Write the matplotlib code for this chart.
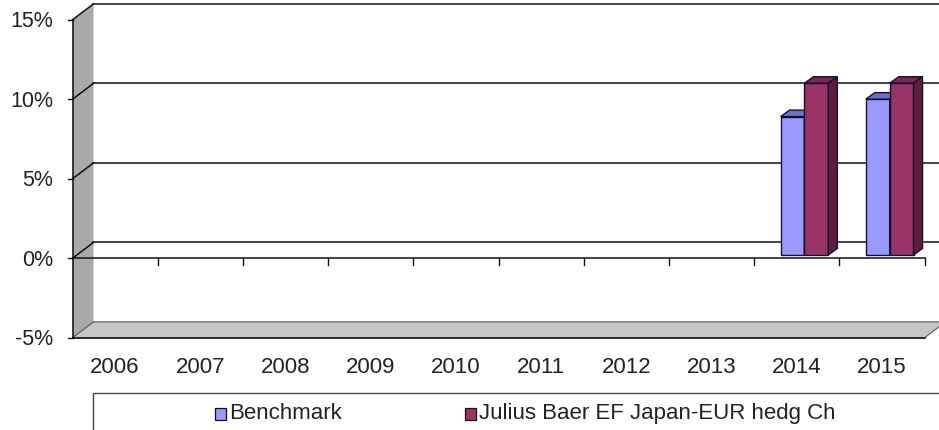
import numpy as np
import matplotlib.pyplot as plt
from matplotlib.patches import Polygon, Rectangle

plt.rcParams['font.family'] = ['Liberation Sans', 'DejaVu Sans']

# data
years = ['2006', '2007', '2008', '2009', '2010', '2011', '2012', '2013', '2014', '2015']
benchmark = [None, None, None, None, None, None, None, None, 8.7, 9.8]
julius = [None, None, None, None, None, None, None, None, 10.8, 10.8]
y_ticks = [-5, 0, 5, 10, 15]
series_names = ['Benchmark', 'Julius Baer EF Japan-EUR hedg Ch']
bench_colors = ('#9999ff', '#6f6fc4', '#5a5aa8')   # front, top, side
julius_colors = ('#993366', '#7a2650', '#5e1d3d')

# pseudo-3D geometry (category units / percent units)
DX, DY = 0.246, 1.0            # wall depth
FX, FY = 0.051, 0.21           # bar front face offset
BDX, BDY = 0.106, 0.41         # bar depth
W = 0.28                       # bar width

fig = plt.figure(figsize=(9.39, 4.30), dpi=100)
ax = fig.add_axes([0, 0, 1, 1])
ax.set_xlim(-72.5 / 85.2, (939 - 72.5) / 85.2)
ax.set_ylim((258.3 - 430) / 15.9, 258.3 / 15.9)
ax.axis('off')

n = len(years)
ymin, ymax = y_ticks[0], y_ticks[-1]
lc = '#111111'

# left wall and floor
ax.add_patch(Polygon([(0, ymin), (DX, ymin + DY), (DX, ymax + DY), (0, ymax)],
                     closed=True, facecolor='#a9a9a9', edgecolor='none', zorder=1))
ax.add_patch(Polygon([(0, ymin), (n, ymin), (n + DX, ymin + DY), (DX, ymin + DY)],
                     closed=True, facecolor='#c6c6c6', edgecolor='#555555', lw=0.8, zorder=1))

# gridlines on back wall + connectors on left wall
for t in y_ticks[1:]:
    ax.plot([DX, n + DX + 1], [t + DY, t + DY], color=lc, lw=1.1, zorder=2)
    ax.plot([0, DX], [t, t + DY], color=lc, lw=1.1, zorder=2)

# front frame
ax.plot([0, 0], [ymin, ymax], color=lc, lw=1.1, zorder=3)
ax.plot([0, n], [ymin, ymin], color=lc, lw=1.1, zorder=3)
ax.plot([0, n], [0, 0], color=lc, lw=1.1, zorder=3)
for t in y_ticks:
    ax.plot([-0.05, 0], [t, t], color=lc, lw=1.0, zorder=3)
    ax.text(-0.225, t - 0.12, f'{t}%', ha='right', va='center', fontsize=15.5, color='#222222')
for k in range(1, n + 1):
    ax.plot([k, k], [0, -0.45], color=lc, lw=1.0, zorder=3)
for i, yr in enumerate(years):
    ax.text(i + 0.5, -6.84, yr, ha='center', va='center', fontsize=16, color='#222222')


def bar3d(left, val, cols):
    x0, y0 = left + FX, FY
    x1, y1 = x0 + W, val + FY
    ax.add_patch(Polygon([(x0, y0), (x1, y0), (x1, y1), (x0, y1)], closed=True,
                         facecolor=cols[0], edgecolor='#101030', lw=1.0, zorder=5))
    ax.add_patch(Polygon([(x0, y1), (x1, y1), (x1 + BDX, y1 + BDY), (x0 + BDX, y1 + BDY)],
                         closed=True, facecolor=cols[1], edgecolor='#101030', lw=1.0, zorder=5))
    ax.add_patch(Polygon([(x1, y0), (x1 + BDX, y0 + BDY), (x1 + BDX, y1 + BDY), (x1, y1)],
                         closed=True, facecolor=cols[2], edgecolor='#101030', lw=1.0, zorder=5))


for i in range(n):
    if benchmark[i] is not None:
        bar3d(i + 0.26, benchmark[i], bench_colors)
    if julius[i] is not None:
        bar3d(i + 0.26 + W, julius[i], julius_colors)

# legend box
ax.add_patch(Rectangle((0.241, -12.0), 12, 12.0 - 8.47, facecolor='white',
                       edgecolor='#444444', lw=1.0, zorder=4, clip_on=True))
for xm, name, cols in [(1.672, series_names[0], bench_colors), (4.607, series_names[1], julius_colors)]:
    ax.add_patch(Rectangle((xm, -10.17), 0.129, 0.755, facecolor=cols[0],
                           edgecolor='#111111', lw=0.9, zorder=6))
    ax.text(xm + 0.165, -9.79, name, ha='left', va='center', fontsize=16, color='#222222', zorder=6)

fig.savefig('out.png', dpi=100)
